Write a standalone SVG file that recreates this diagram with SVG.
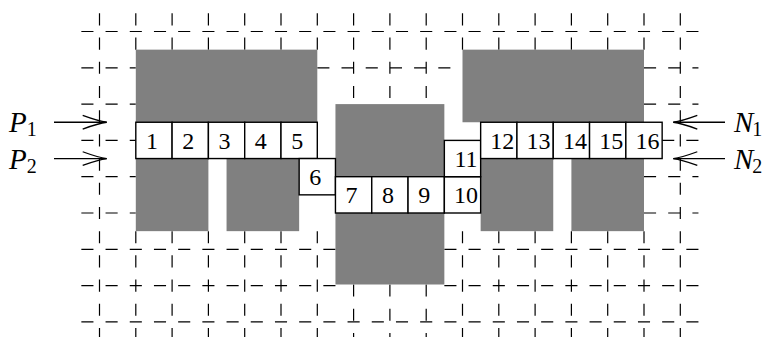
<svg xmlns="http://www.w3.org/2000/svg" width="775" height="337" viewBox="0 0 775 337">
<style>
.g{stroke:#000;stroke-width:1.2;stroke-dasharray:12.1 12.1;fill:none}
.blk{fill:#808080;stroke:none}
.box{fill:#fff;stroke:#000;stroke-width:1.4}
.num{font-family:"Liberation Serif",serif;font-size:24px;fill:#000;text-anchor:middle}
.lab{font-family:"Liberation Serif",serif;font-style:italic;font-size:29px;fill:#000}
.sub{font-family:"Liberation Serif",serif;font-size:20px;fill:#000}
.arr{stroke:#000;stroke-width:1.3;fill:none}
</style>
<defs>
<marker id="to" viewBox="0 0 26 16" refX="25" refY="8" markerWidth="26" markerHeight="16" markerUnits="userSpaceOnUse" orient="auto">
<path d="M1,1.2 C10,4.5 18,7.2 25,8 C18,8.8 10,11.5 1,14.8" fill="none" stroke="#000" stroke-width="1.3"/>
</marker>
</defs>
<g id="grid">
<line class="g" x1="81.35" y1="31.5" x2="698.45" y2="31.5"/>
<line class="g" x1="81.35" y1="67.8" x2="135.8" y2="67.8"/>
<line class="g" x1="317.3" y1="67.8" x2="462.5" y2="67.8"/>
<line class="g" x1="644" y1="67.8" x2="698.45" y2="67.8"/>
<line class="g" x1="81.35" y1="104.1" x2="135.8" y2="104.1"/>
<line class="g" x1="644" y1="104.1" x2="698.45" y2="104.1"/>
<line class="g" x1="81.35" y1="140.4" x2="135.8" y2="140.4"/>
<line class="g" x1="662.15" y1="140.4" x2="698.45" y2="140.4"/>
<line class="g" x1="81.35" y1="176.7" x2="135.8" y2="176.7"/>
<line class="g" x1="644" y1="176.7" x2="698.45" y2="176.7"/>
<line class="g" x1="81.35" y1="213" x2="135.8" y2="213"/>
<line class="g" x1="644" y1="213" x2="698.45" y2="213"/>
<line class="g" x1="81.35" y1="249.3" x2="335.45" y2="249.3"/>
<line class="g" x1="444.35" y1="249.3" x2="698.45" y2="249.3"/>
<line class="g" x1="81.35" y1="285.6" x2="335.45" y2="285.6"/>
<line class="g" x1="444.35" y1="285.6" x2="698.45" y2="285.6"/>
<line class="g" x1="81.35" y1="321.9" x2="698.45" y2="321.9"/>
<line class="g" x1="99.5" y1="13.35" x2="99.5" y2="340.05"/>
<line class="g" x1="135.8" y1="13.35" x2="135.8" y2="49.65"/>
<line class="g" x1="172.1" y1="13.35" x2="172.1" y2="49.65"/>
<line class="g" x1="208.4" y1="13.35" x2="208.4" y2="49.65"/>
<line class="g" x1="244.7" y1="13.35" x2="244.7" y2="49.65"/>
<line class="g" x1="281" y1="13.35" x2="281" y2="49.65"/>
<line class="g" x1="317.3" y1="13.35" x2="317.3" y2="49.65"/>
<line class="g" x1="353.6" y1="13.35" x2="353.6" y2="104.1"/>
<line class="g" x1="389.9" y1="13.35" x2="389.9" y2="104.1"/>
<line class="g" x1="426.2" y1="13.35" x2="426.2" y2="104.1"/>
<line class="g" x1="462.5" y1="13.35" x2="462.5" y2="49.65"/>
<line class="g" x1="498.8" y1="13.35" x2="498.8" y2="49.65"/>
<line class="g" x1="535.1" y1="13.35" x2="535.1" y2="49.65"/>
<line class="g" x1="571.4" y1="13.35" x2="571.4" y2="49.65"/>
<line class="g" x1="607.7" y1="13.35" x2="607.7" y2="49.65"/>
<line class="g" x1="644" y1="13.35" x2="644" y2="49.65"/>
<line class="g" x1="680.3" y1="13.35" x2="680.3" y2="340.05"/>
<line class="g" x1="135.8" y1="231.15" x2="135.8" y2="340.05"/>
<line class="g" x1="172.1" y1="231.15" x2="172.1" y2="340.05"/>
<line class="g" x1="208.4" y1="231.15" x2="208.4" y2="340.05"/>
<line class="g" x1="244.7" y1="231.15" x2="244.7" y2="340.05"/>
<line class="g" x1="281" y1="231.15" x2="281" y2="340.05"/>
<line class="g" x1="317.3" y1="231.15" x2="317.3" y2="340.05"/>
<line class="g" x1="353.6" y1="284.5" x2="353.6" y2="340.05"/>
<line class="g" x1="389.9" y1="284.5" x2="389.9" y2="340.05"/>
<line class="g" x1="426.2" y1="284.5" x2="426.2" y2="340.05"/>
<line class="g" x1="462.5" y1="231.15" x2="462.5" y2="340.05"/>
<line class="g" x1="498.8" y1="231.15" x2="498.8" y2="340.05"/>
<line class="g" x1="535.1" y1="231.15" x2="535.1" y2="340.05"/>
<line class="g" x1="571.4" y1="231.15" x2="571.4" y2="340.05"/>
<line class="g" x1="607.7" y1="231.15" x2="607.7" y2="340.05"/>
<line class="g" x1="644" y1="231.15" x2="644" y2="340.05"/>
</g>
<g id="blocks">
<rect id="p-top" class="blk" x="135.8" y="49.65" width="181.5" height="72.6"/>
<rect id="p-bot1" class="blk" x="135.8" y="158.55" width="72.6" height="72.6"/>
<rect id="p-bot2" class="blk" x="226.55" y="158.55" width="72.6" height="72.6"/>
<rect id="center" class="blk" x="335.45" y="104.1" width="108.9" height="180.4"/>
<rect id="n-top" class="blk" x="462.5" y="49.65" width="181.5" height="72.6"/>
<rect id="n-bot1" class="blk" x="480.65" y="158.55" width="72.6" height="72.6"/>
<rect id="n-bot2" class="blk" x="571.4" y="158.55" width="72.6" height="72.6"/>
</g>
<g id="c1"><rect class="box" x="135.8" y="122.25" width="36.3" height="36.3"/><text class="num" x="151.95" y="148.75">1</text></g>
<g id="c2"><rect class="box" x="172.1" y="122.25" width="36.3" height="36.3"/><text class="num" x="188.25" y="148.75">2</text></g>
<g id="c3"><rect class="box" x="208.4" y="122.25" width="36.3" height="36.3"/><text class="num" x="224.55" y="148.75">3</text></g>
<g id="c4"><rect class="box" x="244.7" y="122.25" width="36.3" height="36.3"/><text class="num" x="260.85" y="148.75">4</text></g>
<g id="c5"><rect class="box" x="281" y="122.25" width="36.3" height="36.3"/><text class="num" x="297.15" y="148.75">5</text></g>
<g id="c6"><rect class="box" x="299.15" y="158.55" width="36.3" height="36.3"/><text class="num" x="315.3" y="185.05">6</text></g>
<g id="c7"><rect class="box" x="335.45" y="176.7" width="36.3" height="36.3"/><text class="num" x="351.6" y="203.2">7</text></g>
<g id="c8"><rect class="box" x="371.75" y="176.7" width="36.3" height="36.3"/><text class="num" x="387.9" y="203.2">8</text></g>
<g id="c9"><rect class="box" x="408.05" y="176.7" width="36.3" height="36.3"/><text class="num" x="424.2" y="203.2">9</text></g>
<g id="c10"><rect class="box" x="444.35" y="176.7" width="36.3" height="36.3"/><text class="num" x="466" y="203.2">10</text></g>
<g id="c11"><rect class="box" x="444.35" y="140.4" width="36.3" height="36.3"/><text class="num" x="466" y="166.9">11</text></g>
<g id="c12"><rect class="box" x="480.65" y="122.25" width="36.3" height="36.3"/><text class="num" x="502.3" y="148.75">12</text></g>
<g id="c13"><rect class="box" x="516.95" y="122.25" width="36.3" height="36.3"/><text class="num" x="538.6" y="148.75">13</text></g>
<g id="c14"><rect class="box" x="553.25" y="122.25" width="36.3" height="36.3"/><text class="num" x="574.9" y="148.75">14</text></g>
<g id="c15"><rect class="box" x="589.55" y="122.25" width="36.3" height="36.3"/><text class="num" x="611.2" y="148.75">15</text></g>
<g id="c16"><rect class="box" x="625.85" y="122.25" width="36.3" height="36.3"/><text class="num" x="647.5" y="148.75">16</text></g>
<g id="connectors">
<line class="arr" x1="54" y1="122.25" x2="106.7" y2="122.25" marker-end="url(#to)"/>
<line class="arr" x1="54" y1="158.55" x2="106.7" y2="158.55" marker-end="url(#to)"/>
<line class="arr" x1="725" y1="122.25" x2="673.3" y2="122.25" marker-end="url(#to)"/>
<line class="arr" x1="725" y1="158.55" x2="673.3" y2="158.55" marker-end="url(#to)"/>
</g>
<g id="labels">
<text class="lab" x="9" y="132">P<tspan class="sub" font-style="normal" dx="0" dy="4">1</tspan></text>
<text class="lab" x="9" y="168.5">P<tspan class="sub" font-style="normal" dx="0" dy="4">2</tspan></text>
<text class="lab" x="734" y="132">N<tspan class="sub" font-style="normal" dx="-1" dy="4">1</tspan></text>
<text class="lab" x="734" y="168.5">N<tspan class="sub" font-style="normal" dx="-1" dy="4">2</tspan></text>
</g>
</svg>
